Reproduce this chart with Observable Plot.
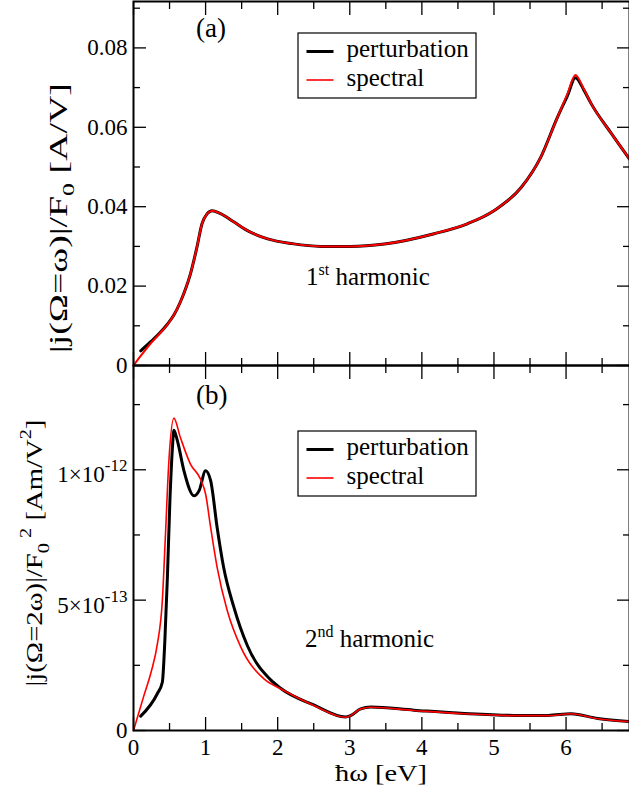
<!DOCTYPE html>
<html><head><meta charset="utf-8">
<script src="https://cdn.jsdelivr.net/npm/d3@7"></script>
<script src="https://cdn.jsdelivr.net/npm/@observablehq/plot@0.6"></script>
<style>
body{margin:0;background:#fff;}
#wrap{position:relative;width:629px;height:789px;overflow:hidden;font-family:"Liberation Serif","DejaVu Serif","Noto Serif","Times New Roman",serif;}
#wrap svg{position:absolute;left:0;}
#wrap svg text{font-family:"Liberation Serif","DejaVu Serif","Noto Serif","Times New Roman",serif !important;}
</style></head><body><div id="wrap"></div>
<script>
// ---------- Panel (a): 1st harmonic, |j(Ω=ω)|/F0 [A/V] ----------
const xPertA = [0.1,0.24,0.36,0.47,0.56,0.65,0.72,0.79,0.88,0.95,1.02,1.09,1.2,1.39,1.6,1.86,2.2,2.6,3.0,3.48,4.17,4.63,5.0,5.38,5.65,5.88,6.02,6.13,6.25,6.35,6.63,6.88];
const yPertA = [0.0037,0.0060,0.0081,0.0104,0.0127,0.0160,0.0192,0.0231,0.0298,0.0357,0.0382,0.039,0.0383,0.0362,0.0338,0.0319,0.0307,0.0300,0.0300,0.0306,0.0332,0.0357,0.039,0.0449,0.0525,0.0625,0.068,0.0725,0.0693,0.0659,0.0584,0.052];
const xSpecA = [0,0.1,0.24,0.36,0.47,0.56,0.65,0.72,0.79,0.88,0.95,1.02,1.09,1.2,1.39,1.6,1.86,2.2,2.6,3.0,3.48,4.17,4.63,5.0,5.38,5.65,5.88,6.02,6.13,6.25,6.35,6.63,6.88];
const ySpecA = [0,0.0024,0.0056,0.0080,0.0103,0.0127,0.0160,0.0192,0.0231,0.0298,0.0357,0.0382,0.039,0.0383,0.0362,0.0338,0.0319,0.0307,0.0300,0.0300,0.0306,0.0332,0.0357,0.039,0.0449,0.0525,0.0625,0.0685,0.0732,0.0695,0.0659,0.0584,0.052];
const yTicksA = [0,0.02,0.04,0.06,0.08];
const yMinorA = [0.01,0.03,0.05,0.07,0.09];

// ---------- Panel (b): 2nd harmonic, units of 1e-13 Am/V^2 ----------
const xPertB = [0.1,0.33,0.40,0.435,0.47,0.505,0.54,0.56,0.61,0.70,0.84,0.91,1.0,1.07,1.16,1.25,1.39,1.58,1.9,2.04,2.5,2.94,3.01,3.15,3.29,3.89,4.59,5.28,5.75,6.07,6.44,6.88];
const yPertB = [0.55,1.41,1.85,3.45,5.87,8.81,10.85,11.52,11.1,9.96,9.0,9.2,9.96,9.58,7.79,6.26,4.75,3.25,1.95,1.62,0.98,0.52,0.57,0.83,0.9,0.78,0.65,0.58,0.58,0.64,0.46,0.34];
const xSpecB = [0,0.14,0.25,0.33,0.40,0.44,0.49,0.56,0.65,0.79,0.93,1.0,1.07,1.16,1.30,1.49,1.81,2.04,2.5,2.94,3.01,3.15,3.29,3.89,4.59,5.28,5.75,6.07,6.44,6.88];
const ySpecB = [0,1.3,2.3,3.3,4.98,7.3,10.3,11.98,11.24,10.22,9.64,9.07,7.79,6.26,4.6,3.19,1.98,1.6,0.96,0.51,0.57,0.83,0.89,0.77,0.64,0.57,0.57,0.64,0.45,0.34];
const unitB = 1e-13;
const yTicksB = [0,5e-13,1e-12];
const yMinorB = [2.5e-13,7.5e-13,1.25e-12];

// ---------- shared x ----------
const xTicks = [0,1,2,3,4,5,6];
const xMinor = [0.5,1.5,2.5,3.5,4.5,5.5,6.5];
const xDomain = [0,6.88];

const seriesNames = ["perturbation","spectral"];
const seriesColors = ["#000000","#ff0000"];
const seriesWidths = [3,1.6];

const FONT = '"Liberation Serif","DejaVu Serif","Noto Serif","Times New Roman",serif';
const W = 629;
const wrap = document.getElementById("wrap");
const blank = () => "";

function frameTicks(yMajor, yMinor, yFmt, showXLabels) {
  const common = {label: null, stroke: "black", strokeWidth: 1.3};
  return [
    Plot.axisY(yMajor, {...common, anchor: "left", tickSize: -13, tickPadding: 19, tickFormat: yFmt}),
    Plot.axisY(yMinor, {...common, anchor: "left", tickSize: -7, tickFormat: blank}),
    Plot.axisY(yMajor, {...common, anchor: "right", tickSize: -13, tickFormat: blank}),
    Plot.axisY(yMinor, {...common, anchor: "right", tickSize: -7, tickFormat: blank}),
    Plot.axisX(xTicks, {...common, anchor: "bottom", tickSize: -13, tickPadding: 21, tickFormat: showXLabels ? (d => String(d)) : blank}),
    Plot.axisX(xMinor, {...common, anchor: "bottom", tickSize: -7, tickFormat: blank}),
    Plot.axisX(xTicks, {...common, anchor: "top", tickSize: -13, tickFormat: blank}),
    Plot.axisX(xMinor, {...common, anchor: "top", tickSize: -7, tickFormat: blank}),
    Plot.frame({stroke: "black", strokeWidth: 2})
  ];
}

const style = {fontFamily: FONT, fontSize: "23px", background: "transparent", overflow: "visible", color: "black"};

// ----- panel (a) -----
const pertA = xPertA.map((x, i) => ({x, y: yPertA[i]}));
const specA = xSpecA.map((x, i) => ({x, y: ySpecA[i]}));
const plotA = Plot.plot({
  width: W, height: 366, marginLeft: 133, marginRight: 0, marginTop: 1, marginBottom: 1,
  style,
  x: {domain: xDomain, label: null},
  y: {domain: [0, 364/3970], label: null},
  marks: [
    Plot.line(pertA, {x: "x", y: "y", stroke: seriesColors[0], strokeWidth: seriesWidths[0], curve: "monotone-x"}),
    Plot.line(specA, {x: "x", y: "y", stroke: seriesColors[1], strokeWidth: 2, curve: "monotone-x"}),
    ...frameTicks(yTicksA, yMinorA, d => d === 0 ? "0" : d.toFixed(2), false)
  ]
});
plotA.style.top = "0px";
wrap.appendChild(plotA);

// ----- panel (b) -----
const pertB = xPertB.map((x, i) => ({x, y: yPertB[i] * unitB}));
const specB = xSpecB.map((x, i) => ({x, y: ySpecB[i] * unitB}));
const sciFmt = d => {
  if (d === 0) return "0";
  const e = Math.floor(Math.log10(d) + 1e-9);
  const m = Math.round(d / Math.pow(10, e));
  return `${m}×10^${e}`;
};
const plotB = Plot.plot({
  width: W, height: 424, marginLeft: 133, marginRight: 0, marginTop: 0, marginBottom: 59,
  style,
  x: {domain: xDomain, label: null},
  y: {domain: [0, 1.4e-12], label: null},
  marks: [
    Plot.line(pertB, {x: "x", y: "y", stroke: seriesColors[0], strokeWidth: seriesWidths[0], curve: "monotone-x"}),
    Plot.line(specB, {x: "x", y: "y", stroke: seriesColors[1], strokeWidth: seriesWidths[1], curve: "monotone-x"}),
    ...frameTicks(yTicksB, yMinorB, sciFmt, true)
  ]
});
plotB.style.top = "365px";
wrap.appendChild(plotB);

// rewrite "m×10^e" tick labels with superscripts
d3.select(plotB).selectAll("text").each(function () {
  const t = this.textContent;
  if (t.includes("^")) {
    const [main, sup] = t.split("^");
    const sel = d3.select(this);
    sel.text(null);
    sel.append("tspan").attr("dy", "5px").text(main);
    sel.append("tspan").attr("dy", "-11px").attr("font-size", "17px").text(sup);
  }
});

// ---------- overlay: labels, annotations, legends ----------
const ov = d3.select(wrap).append("svg")
  .attr("width", W).attr("height", 789)
  .style("top", "0px").style("pointer-events", "none")
  .style("overflow", "visible");

function stretchedRotated(x, y, parts, target, size) {
  const t = ov.append("text").attr("text-anchor", "middle").attr("font-size", size + "px").attr("fill", "black");
  let shift = 0;
  for (const p of parts) {
    const ts = t.append("tspan").text(p.t);
    const want = p.dy || 0;
    if (want !== shift) ts.attr("dy", (want - shift) + "px");
    shift = want;
    if (p.s) ts.attr("font-size", p.s + "px");
  }
  const w = t.node().getBBox().width;
  const k = target / w;
  t.attr("transform", `translate(${x},${y}) rotate(-90) scale(${k},1)`);
  return t;
}

// y-axis labels
stretchedRotated(67, 218, [
  {t: "|j(Ω=ω)|/F"}, {t: "0", dy: 7, s: 17}, {t: " [A/V]", dy: 0}
], 270, 25);
stretchedRotated(42, 553, [
  {t: "|j(Ω=2ω)|/F"}, {t: "0", dy: 7, s: 17}, {t: " 2", dy: -11, s: 17}, {t: " [Am/V", dy: 0}, {t: "2", dy: -11, s: 17}, {t: "]", dy: 0}
], 267, 24);

// x-axis label
{
  const t = ov.append("text").attr("text-anchor", "middle").attr("font-size", "23px").attr("fill", "black").text("ħω [eV]");
  const w = t.node().getBBox().width;
  t.attr("transform", `translate(381,781) scale(${92 / w},1)`);
}

// panel tags
ov.append("text").attr("x", 196).attr("y", 37).attr("font-size", "27px").text("(a)");
ov.append("text").attr("x", 196).attr("y", 404).attr("font-size", "27px").text("(b)");

// harmonic annotations
function harmonic(x, y, num, sup) {
  const t = ov.append("text").attr("x", x).attr("y", y).attr("font-size", "25px");
  t.append("tspan").text(num);
  t.append("tspan").attr("dy", "-10px").attr("font-size", "16px").text(sup);
  t.append("tspan").attr("dy", "10px").text(" harmonic");
}
harmonic(306, 285, "1", "st");
harmonic(305, 647, "2", "nd");

// legends
function legend(top) {
  ov.append("rect").attr("x", 298).attr("y", top).attr("width", 178).attr("height", 65)
    .attr("fill", "none").attr("stroke", "black").attr("stroke-width", 1.2);
  seriesNames.forEach((name, i) => {
    const ly = top + 18.5 + i * 28.5;
    ov.append("line").attr("x1", 306.5).attr("x2", 333.5).attr("y1", ly).attr("y2", ly)
      .attr("stroke", seriesColors[i]).attr("stroke-width", i === 0 ? 3 : 1.6);
    ov.append("text").attr("x", 346.5).attr("y", ly + 5.5).attr("font-size", "25px").text(name);
  });
}
legend(33);
legend(431);
</script></body></html>
